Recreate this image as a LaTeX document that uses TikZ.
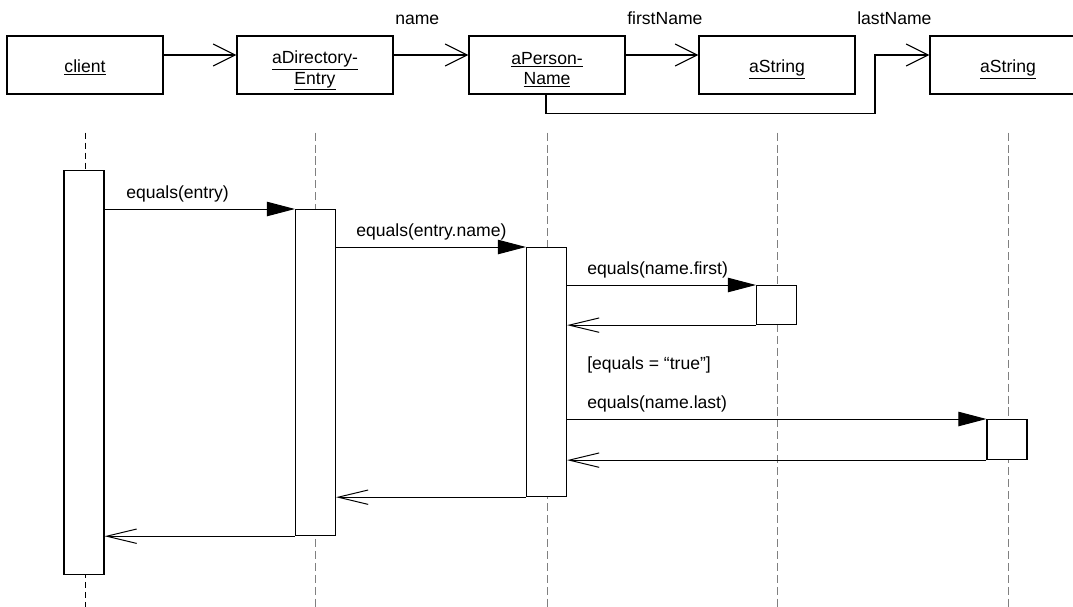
\documentclass[tikz,border=0pt]{standalone}
\usepackage{fontspec}
\setmainfont{Liberation Sans}
\usetikzlibrary{arrows.meta}

\newcommand{\objname}[2]{\raisebox{-#1}[0pt][0pt]{\begin{tabular}[b]{@{}c@{}}#2\end{tabular}}}

\begin{document}
\begin{tikzpicture}[x=0.025cm, y=-0.025cm,
        obj/.style={draw, line width=0.8pt, minimum width=3.9cm, minimum height=1.45cm,
            inner sep=0pt, font=\fontsize{12.5}{14.2}\selectfont},
        bar/.style={draw, fill=white, line width=0.8pt, minimum width=1cm, inner sep=0pt, anchor=north},
        txt/.style={anchor=base west, inner sep=0pt, font=\fontsize{12.5}{15}\selectfont},
        link/.style={line width=0.8pt, -{Straight Barb[length=0.55cm, width=0.55cm]}},
        call/.style={line width=0.7pt, -{Triangle[length=0.7cm, width=0.36cm]}},
        reply/.style={line width=0.7pt, -{Straight Barb[length=0.75cm, width=0.36cm]}},
        life/.style={gray, line width=0.7pt, dash pattern=on 5.7pt off 2.8pt}]
        \useasboundingbox (0,0) rectangle (1073,606);
        \clip (0,0) rectangle (1073,606);

        % objects
        \node[obj] (client) at (85,65) {\objname{0.19cm}{\underline{client}}};
        \node[obj] (entry) at (315,65) {\objname{0.475cm}{\underline{aDirectory-}\\\underline{Entry}}};
        \node[obj] (person) at (547,65) {\objname{0.475cm}{\underline{aPerson-}\\\underline{Name}}};
        \node[obj] (first) at (777,65) {\objname{0.19cm}{\underline{aString}}};
        \node[obj] (last) at (1008,65) {\objname{0.19cm}{\underline{aString}}};

        \draw[link] ([yshift=0.25cm]client.east) -- ([yshift=0.25cm]entry.west);
        \draw[link] ([yshift=0.25cm]entry.east) -- ([yshift=0.25cm]person.west);
        \draw[link] ([yshift=0.25cm]person.east) -- ([yshift=0.25cm]first.west);
        \draw[link] ([xshift=-0.025cm]person.south) -- ++(0,19) -- ++(329,0) |- ([yshift=0.25cm]last.west);

        \node[txt] (lname) at (395,24) {name};
        \node[txt] (lfirst) at (627,24) {firstName};
        \node[txt] (llast) at (857,24) {lastName};

        % lifelines
        \draw[line width=0.7pt, dash pattern=on 4.3pt off 2.8pt] ([yshift=-0.95cm]client.south) -- ++(0,480);
        \foreach \o in {entry, person, first, last}
            \draw[life] ([yshift=-0.95cm]\o.south) -- ++(0,480);

        % activations
        \node[bar, minimum height=10.1cm] (cbar) at (84,170) {};
        \node[bar, minimum height=8.15cm] (ebar) at (315.5,209) {};
        \node[bar, minimum height=6.225cm] (pbar) at (546.5,247) {};
        \node[bar, minimum height=0.975cm] (fbar) at (776.5,285) {};
        \node[bar, minimum height=1cm] (lbar) at (1007,419) {};

        % messages
        \draw[call] (cbar.east |- ebar.north) -- (ebar.north west);
        \draw[call] (ebar.east |- pbar.north) -- (pbar.north west);
        \draw[call] (pbar.east |- fbar.north) -- (fbar.north west);
        \draw[reply] (fbar.south west) -- (pbar.east |- fbar.south);
        \draw[call] (pbar.east |- lbar.north) -- (lbar.north west);
        \draw[reply] (lbar.south west) -- (pbar.east |- lbar.south);
        \draw[reply] (pbar.south west) -- (ebar.east |- pbar.south);
        \draw[reply] (ebar.south west) -- (cbar.east |- ebar.south);

        \node[txt] (m1) at (126,198) {equals(entry)};
        \node[txt] (m2) at (356,236) {equals(entry.name)};
        \node[txt] (m3) at (587,274) {equals(name.first)};
        \node[txt] (guard) at (587,369) {[equals = “true”]};
        \node[txt] (m4) at (587,408) {equals(name.last)};
\end{tikzpicture}
\end{document}
